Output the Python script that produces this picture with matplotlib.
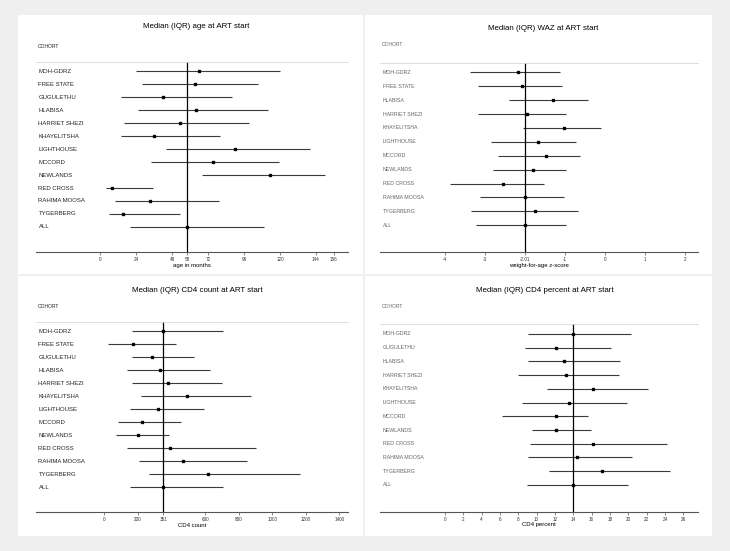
import matplotlib
matplotlib.use('Agg')
import matplotlib.pyplot as plt
from matplotlib.patches import Rectangle
from matplotlib.transforms import blended_transform_factory

# ---- data ----
age_cohorts = ['MOH-GDRZ', 'FREE STATE', 'GUGULETHU', 'HLABISA', 'HARRIET SHEZI',
               'KHAYELITSHA', 'LIGHTHOUSE', 'MCCORD', 'NEWLANDS', 'RED CROSS',
               'RAHIMA MOOSA', 'TYGERBERG', 'ALL']
age_lo = [24, 28, 14, 25, 16, 14, 44, 34, 68, 4, 10, 6, 20]
age_med = [66, 63, 42, 64, 53, 36, 90, 75, 113, 8, 33, 15, 58]
age_hi = [120, 105, 88, 112, 99, 80, 140, 119, 150, 35, 79, 53, 109]
age_ref = 58
age_ticks = [0, 24, 48, 58, 72, 96, 120, 144, 156]
age_ticklabels = ['0', '24', '48', '58', '72', '96', '120', '144', '156']

waz_cohorts = ['MOH-GDRZ', 'FREE STATE', 'HLABISA', 'HARRIET SHEZI', 'KHAYELITSHA',
               'LIGHTHOUSE', 'MCCORD', 'NEWLANDS', 'RED CROSS', 'RAHIMA MOOSA',
               'TYGERBERG', 'ALL']
waz_lo = [-3.38, -3.17, -2.39, -3.18, -2.04, -2.85, -2.68, -2.79, -3.87, -3.12, -3.35, -3.23]
waz_med = [-2.17, -2.08, -1.29, -1.94, -1.02, -1.68, -1.47, -1.81, -2.56, -1.99, -1.75, -2.01]
waz_hi = [-1.13, -1.08, -0.42, -0.98, -0.10, -0.73, -0.62, -0.97, -1.52, -1.02, -0.68, -0.98]
waz_ref = -2.01
waz_ticks = [-4, -3, -2.01, -1, 0, 1, 2]
waz_ticklabels = ['-4', '-3', '-2.01', '-1', '0', '1', '2']

cd4_cohorts = age_cohorts
cd4_lo = [163, 20, 163, 135, 166, 216, 155, 80, 69, 137, 206, 268, 153]
cd4_med = [351, 169, 286, 333, 381, 492, 318, 226, 200, 389, 466, 617, 351]
cd4_hi = [705, 427, 534, 627, 699, 875, 593, 456, 385, 903, 847, 1165, 705]
cd4_ref = 351
cd4_ticks = [0, 200, 351, 600, 800, 1000, 1200, 1400]
cd4_ticklabels = ['0', '200', '351', '600', '800', '1000', '1200', '1400']

pct_cohorts = ['MOH-GDRZ', 'GUGULETHU', 'HLABISA', 'HARRIET SHEZI', 'KHAYELITSHA',
               'LIGHTHOUSE', 'MCCORD', 'NEWLANDS', 'RED CROSS', 'RAHIMA MOOSA',
               'TYGERBERG', 'ALL']
pct_lo = [9.1, 8.7, 9.1, 8.0, 11.1, 8.4, 6.2, 9.5, 9.3, 9.1, 11.3, 8.9]
pct_med = [14.0, 12.1, 13.0, 13.2, 16.1, 13.5, 12.1, 12.1, 16.2, 14.4, 17.1, 14.0]
pct_hi = [20.3, 18.1, 19.1, 19.0, 22.1, 19.9, 15.6, 15.9, 24.2, 20.4, 24.5, 20.0]
pct_ref = 14
pct_ticks = [0, 2, 4, 6, 8, 10, 12, 14, 16, 18, 20, 22, 24, 26]
pct_ticklabels = [str(t) for t in pct_ticks]

W, H = 730, 551
plt.rcParams['font.family'] = ['Liberation Sans', 'DejaVu Sans']

fig = plt.figure(figsize=(7.3, 5.51), dpi=100, facecolor='#efefef')


def fx(x):
    return x / W


def fy(y):
    return 1 - y / H


def panel(box, axbox, xlim, title, title_xy, cohort_y, cohorts, lo, med, hi, ref,
          ticks, ticklabels, xlabel, labsize, labcolor):
    x0, y0, x1, y1 = box
    fig.add_artist(Rectangle((fx(x0), fy(y1)), fx(x1 - x0), (y1 - y0) / H,
                             transform=fig.transFigure, facecolor='white',
                             edgecolor='none', zorder=0))
    ax0, ax1, sep, axis_y = axbox
    ax = fig.add_axes([fx(ax0), fy(axis_y), fx(ax1 - ax0), (axis_y - sep) / H])
    ax.patch.set_alpha(0)
    n = len(cohorts)
    rows = list(range(n))
    ax.set_xlim(*xlim)
    ax.set_ylim(n + 0.95, -0.7)
    ax.hlines(rows, lo, hi, color='#3a3a3a', lw=0.8)
    ax.plot(med, rows, 's', ms=2.0, color='black', mec='black')
    ax.axvline(ref, color='black', lw=0.9)
    tr = blended_transform_factory(ax.transAxes, ax.transData)
    for i, c in enumerate(cohorts):
        ax.text(0.008, i, c, transform=tr, fontsize=labsize, color=labcolor,
                va='center', ha='left')
    for s in ['left', 'right']:
        ax.spines[s].set_visible(False)
    ax.spines['top'].set_color('#d8d8d8')
    ax.spines['top'].set_linewidth(0.6)
    ax.spines['bottom'].set_color('#555555')
    ax.spines['bottom'].set_linewidth(0.8)
    ax.set_yticks([])
    ax.set_xticks(ticks)
    ax.set_xticklabels(ticklabels)
    ax.tick_params(axis='x', length=2, width=0.5, color='#555555', labelsize=3.3,
                   labelcolor='#333333', pad=1.5)
    ax.set_xlabel(xlabel, fontsize=4.3, labelpad=0.5)
    fig.text(fx(title_xy[0]), fy(title_xy[1]), title, fontsize=5.7,
             ha='center', va='center')
    fig.text(fx(ax0 + 2), fy(cohort_y), 'COHORT', fontsize=3.6, color=labcolor,
             ha='left', va='center')
    return ax


panel((18, 15, 363, 274), (36, 348, 62, 252.3), (-42.67, 165.33),
      'Median (IQR) age at ART start', (196.5, 27), 47,
      age_cohorts, age_lo, age_med, age_hi, age_ref, age_ticks, age_ticklabels,
      'age in months', 4.3, '#222222')

panel((365, 15, 712, 274), (380, 698, 62.7, 252.3), (-5.625, 2.325),
      'Median (IQR) WAZ at ART start', (543, 28), 45,
      waz_cohorts, waz_lo, waz_med, waz_hi, waz_ref, waz_ticks, waz_ticklabels,
      'weight-for-age z-score', 3.8, '#666666')

panel((18, 276, 363, 536), (36, 348, 322.3, 512.3), (-407, 1451),
      'Median (IQR) CD4 count at ART start', (197.5, 290), 306.7,
      cd4_cohorts, cd4_lo, cd4_med, cd4_hi, cd4_ref, cd4_ticks, cd4_ticklabels,
      'CD4 count', 4.3, '#222222')

panel((365, 276, 712, 536), (380, 698, 324.3, 511.7), (-7.09, 27.6),
      'Median (IQR) CD4 percent at ART start', (545, 290), 306.7,
      pct_cohorts, pct_lo, pct_med, pct_hi, pct_ref, pct_ticks, pct_ticklabels,
      'CD4 percent', 3.8, '#666666')

fig.savefig('out.png', dpi=100, facecolor=fig.get_facecolor())
